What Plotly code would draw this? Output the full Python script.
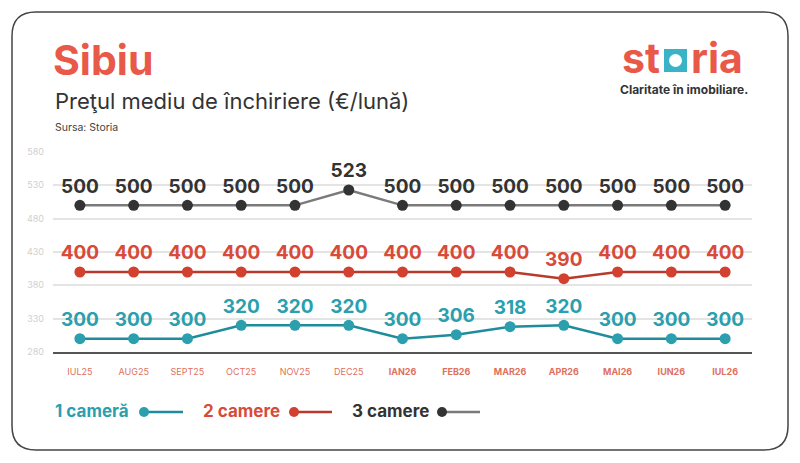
import plotly.graph_objects as go

# data
months = ["IUL25", "AUG25", "SEPT25", "OCT25", "NOV25", "DEC25",
          "IAN26", "FEB26", "MAR26", "APR26", "MAI26", "IUN26", "IUL26"]
bold_months = ["IAN26", "FEB26", "MAR26", "APR26", "MAI26", "IUN26", "IUL26"]
cam1 = [300, 300, 300, 320, 320, 320, 300, 306, 318, 320, 300, 300, 300]
cam2 = [400, 400, 400, 400, 400, 400, 400, 400, 400, 390, 400, 400, 400]
cam3 = [500, 500, 500, 500, 500, 523, 500, 500, 500, 500, 500, 500, 500]
y_ticks = [280, 330, 380, 430, 480, 530, 580]

# the page body has an 8px margin, so the figure is drawn 8px in from the corner
OFF = 8
W, H = 800 - OFF, 463 - OFF
ML, MR, MT, MB = 53 - OFF, 48, 152 - OFF, 111
PW, PH = W - ML - MR, H - MT - MB

FONT = "Inter"
CORAL = "#e8594a"
TEAL = "#2b9fae"
RED = "#d2402f"
DARK = "#333333"


# screen pixel -> paper coords
def px(x):
    return (x - OFF - ML) / PW


def py(y):
    return (H - MB - (y - OFF)) / PH


series = [
    ("1 cameră", cam1, TEAL, "#1f8c9b", TEAL),
    ("2 camere", cam2, RED, "#b83a2c", "#d84a3a"),
    ("3 camere", cam3, "#333333", "#7a7a7a", DARK),
]

fig = go.Figure()
for name, vals, mcol, lcol, tcol in series:
    fig.add_trace(go.Scatter(
        x=months, y=vals, name=name,
        mode="lines+markers+text",
        text=[str(v) for v in vals],
        textposition="top center",
        textfont=dict(family=FONT, size=19, color=tcol, weight="bold"),
        line=dict(color=lcol, width=2.5),
        marker=dict(color=mcol, size=11),
        cliponaxis=False,
        showlegend=False,
    ))

ticktext = ["<b>%s</b>" % m if m in bold_months else m for m in months]

fig.update_layout(
    width=W, height=H,
    margin=dict(l=ML, r=MR, t=MT, b=MB),
    paper_bgcolor="white", plot_bgcolor="white",
    xaxis=dict(
        tickvals=months, ticktext=ticktext,
        range=[-0.5, 12.5],
        showgrid=False, zeroline=False,
        showline=True, linecolor="#555555", linewidth=1.5,
        tickfont=dict(family=FONT, size=9, color="#e0705e"),
        ticklabelstandoff=10,
    ),
    yaxis=dict(
        range=[280, 580], tickvals=y_ticks,
        showgrid=True, gridcolor="#e4e4e4", gridwidth=1.5,
        zeroline=False,
        tickfont=dict(family=FONT, size=9, color="#cfcfcf"),
        ticklabelstandoff=8,
    ),
)


def rounded_rect(x0, y0, x1, y1, r):
    # path in paper coords built from screen pixel corners
    pts = [
        "M %f,%f" % (px(x0 + r), py(y0)),
        "L %f,%f" % (px(x1 - r), py(y0)),
        "Q %f,%f %f,%f" % (px(x1), py(y0), px(x1), py(y0 + r)),
        "L %f,%f" % (px(x1), py(y1 - r)),
        "Q %f,%f %f,%f" % (px(x1), py(y1), px(x1 - r), py(y1)),
        "L %f,%f" % (px(x0 + r), py(y1)),
        "Q %f,%f %f,%f" % (px(x0), py(y1), px(x0), py(y1 - r)),
        "L %f,%f" % (px(x0), py(y0 + r)),
        "Q %f,%f %f,%f" % (px(x0), py(y0), px(x0 + r), py(y0)),
        "Z",
    ]
    return " ".join(pts)


# card border
fig.add_shape(type="path", xref="paper", yref="paper",
              path=rounded_rect(12, 12, 788, 450, 24),
              line=dict(color="#444444", width=1.5), layer="below")

# titles
fig.add_annotation(x=px(51), y=py(60), xref="paper", yref="paper",
                   text="<b>Sibiu</b>", showarrow=False,
                   xanchor="left", yanchor="middle",
                   font=dict(family=FONT, size=41, color=CORAL))
fig.add_annotation(x=px(53), y=py(101), xref="paper", yref="paper",
                   text="Preţul mediu de închiriere (€/lună)", showarrow=False,
                   xanchor="left", yanchor="middle",
                   font=dict(family=FONT, size=22, color=DARK))
fig.add_annotation(x=px(53), y=py(128), xref="paper", yref="paper",
                   text="Sursa: Storia", showarrow=False,
                   xanchor="left", yanchor="middle",
                   font=dict(family=FONT, size=10.5, color="#444444"))

# storia logo
fig.add_annotation(x=px(662), y=py(58), xref="paper", yref="paper",
                   text="<b>st</b>", showarrow=False,
                   xanchor="right", yanchor="middle",
                   font=dict(family=FONT, size=41, color=CORAL))
fig.add_shape(type="rect", xref="paper", yref="paper",
              x0=px(664), x1=px(687), y0=py(49), y1=py(72),
              fillcolor="#3bb3c6", line=dict(width=0))
fig.add_shape(type="circle", xref="paper", yref="paper",
              x0=px(669), x1=px(682), y0=py(54), y1=py(67),
              fillcolor="white", line=dict(width=0))
fig.add_annotation(x=px(689), y=py(58), xref="paper", yref="paper",
                   text="<b>ria</b>", showarrow=False,
                   xanchor="left", yanchor="middle",
                   font=dict(family=FONT, size=41, color=CORAL))
fig.add_annotation(x=px(684), y=py(89), xref="paper", yref="paper",
                   text="<b>Claritate în imobiliare.</b>", showarrow=False,
                   xanchor="center", yanchor="middle",
                   font=dict(family=FONT, size=12, color=DARK))

# custom legend: text, then marker + line
legend_pos = [(53, 144, 183), (201, 294, 332), (350, 442, 480)]
for (name, vals, mcol, lcol, tcol), (tx, cx, lx) in zip(series, legend_pos):
    fig.add_annotation(x=px(tx), y=py(411), xref="paper", yref="paper",
                       text="<b>%s</b>" % name, showarrow=False,
                       xanchor="left", yanchor="middle",
                       font=dict(family=FONT, size=17, color=tcol))
    fig.add_shape(type="line", xref="paper", yref="paper",
                  x0=px(cx), x1=px(lx), y0=py(412), y1=py(412),
                  line=dict(color=lcol, width=2.5))
    fig.add_shape(type="circle", xref="paper", yref="paper",
                  x0=px(cx - 5), x1=px(cx + 5), y0=py(407), y1=py(417),
                  fillcolor=mcol, line=dict(width=0))

fig.write_html("out.html")
